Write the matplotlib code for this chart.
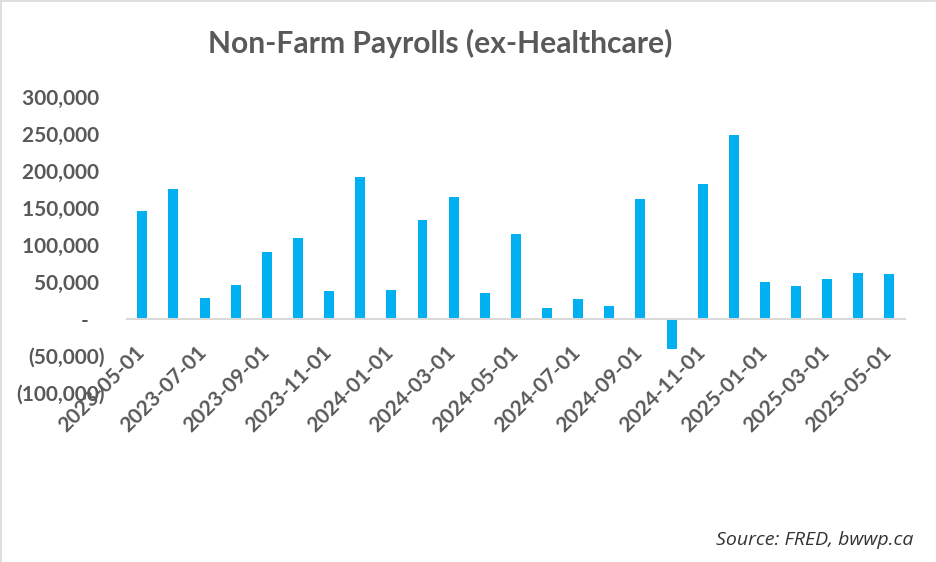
import matplotlib
matplotlib.use("Agg")
import matplotlib.pyplot as plt
from matplotlib.transforms import ScaledTranslation
from matplotlib.lines import Line2D

# ---- data ----
months = ["2023-05-01", "2023-06-01", "2023-07-01", "2023-08-01", "2023-09-01",
          "2023-10-01", "2023-11-01", "2023-12-01", "2024-01-01", "2024-02-01",
          "2024-03-01", "2024-04-01", "2024-05-01", "2024-06-01", "2024-07-01",
          "2024-08-01", "2024-09-01", "2024-10-01", "2024-11-01", "2024-12-01",
          "2025-01-01", "2025-02-01", "2025-03-01", "2025-04-01", "2025-05-01"]
payrolls = [146000, 175000, 28000, 45000, 90000,
            109000, 37000, 191000, 39000, 133000,
            164000, 34000, 114000, 14000, 26000,
            17000, 161000, -41000, 182000, 248000,
            49000, 44000, 53000, 62000, 60000]
y_ticks = [-100000, -50000, 0, 50000, 100000, 150000, 200000, 250000, 300000]
y_tick_labels = ["(100,000)", "(50,000)", "-   ", "50,000 ", "100,000 ",
                 "150,000 ", "200,000 ", "250,000 ", "300,000 "]
title = "Non-Farm Payrolls (ex-Healthcare)"
source = "Source: FRED, bwwp.ca"

FONT = "Lato"
GREY = "#595959"
BAR = "#00B0F0"

fig = plt.figure(figsize=(9.36, 5.62), dpi=100)
ax = fig.add_axes([0.1354, 0.3012, 0.9669 - 0.1354, 0.8283 - 0.3012])

x = list(range(len(months)))
ax.bar(x, payrolls, width=0.32, color=BAR, zorder=2)

ax.set_xlim(-0.5, len(months) - 0.5)
ax.set_ylim(-100000, 300000)

for s in ["top", "right", "left"]:
    ax.spines[s].set_visible(False)
ax.spines["bottom"].set_position(("data", 0))
ax.spines["bottom"].set_color("#D9D9D9")
ax.spines["bottom"].set_linewidth(1.5)
ax.spines["bottom"].set_zorder(3)

ax.set_yticks(y_ticks)
ax.set_yticklabels(y_tick_labels)
ax.tick_params(axis="y", length=0, pad=16, labelsize=15, labelcolor=GREY)

ax.set_xticks(x[::2])
ax.set_xticklabels(months[::2])
ax.tick_params(axis="x", length=0, pad=22, labelsize=15, labelcolor=GREY)

off = ScaledTranslation(-0.5 / 72, 0, fig.dpi_scale_trans)
for lab in ax.get_xticklabels():
    lab.set_rotation(45)
    lab.set_ha("right")
    lab.set_va("center")
    lab.set_rotation_mode("anchor")
    lab.set_fontfamily(FONT)
    lab.set_fontweight("bold")
    lab.set_transform(lab.get_transform() + off)
for lab in ax.get_yticklabels():
    lab.set_fontfamily(FONT)
    lab.set_fontweight("bold")

fig.text(0.470, 1 - 52.7 / 562, title, ha="center", va="baseline",
         fontsize=21.6, fontweight="bold", color=GREY, family=FONT)
fig.text(0.9755, 1 - 545 / 562, source, ha="right", va="baseline",
         fontsize=14, style="italic", color="#333333", family="Open Sans")

# light border on top and left edge of the chart area
fig.add_artist(Line2D([0.001, 0.999], [0.999, 0.999], transform=fig.transFigure,
                      color="#D9D9D9", linewidth=1.2))
fig.add_artist(Line2D([0.001, 0.001], [0.0, 0.999], transform=fig.transFigure,
                      color="#D9D9D9", linewidth=1.2))

fig.savefig("out.png", dpi=100)
